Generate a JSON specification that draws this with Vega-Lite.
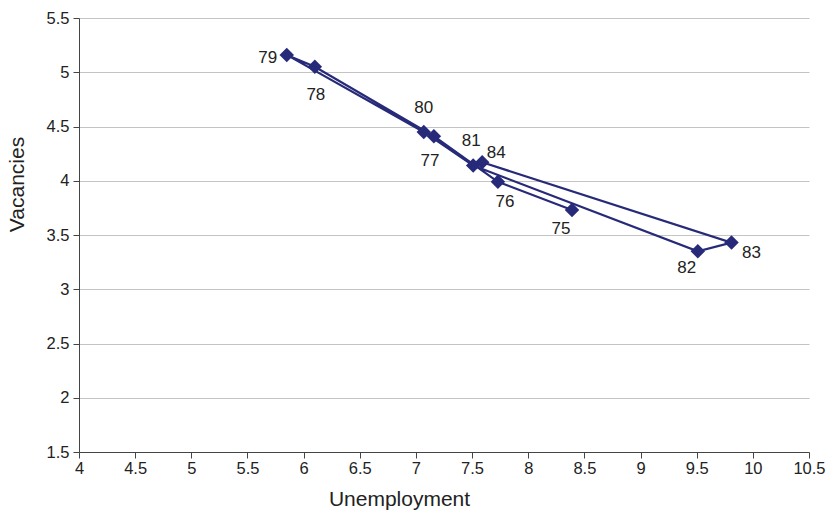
{
  "$schema": "https://vega.github.io/schema/vega-lite/v6.json",
  "width": 730,
  "height": 434,
  "autosize": "none",
  "padding": {"left": 79, "top": 18, "right": 19, "bottom": 62},
  "background": "white",
  "config": {
    "view": {"stroke": null},
    "font": "Liberation Sans",
    "axis": {
      "labelFont": "Liberation Sans",
      "titleFont": "Liberation Sans",
      "labelFontSize": 16.5,
      "titleFontSize": 21,
      "labelColor": "#222222",
      "titleColor": "#222222",
      "titleFontWeight": "normal",
      "domainColor": "#444444",
      "tickColor": "#444444",
      "tickSize": 6,
      "format": "~g"
    }
  },
  "data": {
    "values": [
      {"year": "75", "u": 8.39, "v": 3.73},
      {"year": "76", "u": 7.73, "v": 3.99},
      {"year": "77", "u": 7.16, "v": 4.41},
      {"year": "78", "u": 6.10, "v": 5.05},
      {"year": "79", "u": 5.85, "v": 5.16},
      {"year": "80", "u": 7.07, "v": 4.45},
      {"year": "81", "u": 7.51, "v": 4.14},
      {"year": "82", "u": 9.51, "v": 3.35},
      {"year": "83", "u": 9.81, "v": 3.43},
      {"year": "84", "u": 7.59, "v": 4.17}
    ]
  },
  "encoding": {
    "x": {
      "field": "u", "type": "quantitative",
      "scale": {"domain": [4, 10.5], "nice": false, "zero": false},
      "axis": {"title": "Unemployment", "values": [4,4.5,5,5.5,6,6.5,7,7.5,8,8.5,9,9.5,10,10.5], "grid": false, "labelPadding": 2, "titlePadding": 12, "titleX": 320, "titleAlign": "center", "labelFlush": false}
    },
    "y": {
      "field": "v", "type": "quantitative",
      "scale": {"domain": [1.5, 5.5], "nice": false, "zero": false},
      "axis": {"title": "Vacancies", "values": [1.5,2,2.5,3,3.5,4,4.5,5,5.5], "grid": true, "gridColor": "#c4c4c4", "gridWidth": 1.2, "labelPadding": 4, "titlePadding": 19, "titleY": 166, "titleAlign": "center", "labelFlush": false}
    }
  },
  "layer": [
    {
      "mark": {"type": "line", "color": "#272a78", "strokeWidth": 2.2},
      "encoding": {"order": {"field": "year", "type": "ordinal"}}
    },
    {
      "mark": {"type": "point", "shape": "diamond", "filled": true, "color": "#272a78", "size": 210, "opacity": 1}
    },
    {
      "transform": [{"filter": "datum.year == '79'"}],
      "mark": {"type": "text", "fontSize": 17, "color": "#222222", "dx": -19, "dy": 3},
      "encoding": {"text": {"field": "year"}}
    },
    {
      "transform": [{"filter": "datum.year == '78'"}],
      "mark": {"type": "text", "fontSize": 17, "color": "#222222", "dx": 1, "dy": 28},
      "encoding": {"text": {"field": "year"}}
    },
    {
      "transform": [{"filter": "datum.year == '77'"}],
      "mark": {"type": "text", "fontSize": 17, "color": "#222222", "dx": -4, "dy": 25},
      "encoding": {"text": {"field": "year"}}
    },
    {
      "transform": [{"filter": "datum.year == '76'"}],
      "mark": {"type": "text", "fontSize": 17, "color": "#222222", "dx": 7, "dy": 20},
      "encoding": {"text": {"field": "year"}}
    },
    {
      "transform": [{"filter": "datum.year == '80'"}],
      "mark": {"type": "text", "fontSize": 17, "color": "#222222", "dx": 0, "dy": -24},
      "encoding": {"text": {"field": "year"}}
    },
    {
      "transform": [{"filter": "datum.year == '81'"}],
      "mark": {"type": "text", "fontSize": 17, "color": "#222222", "dx": -2, "dy": -25},
      "encoding": {"text": {"field": "year"}}
    },
    {
      "transform": [{"filter": "datum.year == '84'"}],
      "mark": {"type": "text", "fontSize": 17, "color": "#222222", "dx": 14, "dy": -9},
      "encoding": {"text": {"field": "year"}}
    },
    {
      "transform": [{"filter": "datum.year == '75'"}],
      "mark": {"type": "text", "fontSize": 17, "color": "#222222", "dx": -11, "dy": 19},
      "encoding": {"text": {"field": "year"}}
    },
    {
      "transform": [{"filter": "datum.year == '82'"}],
      "mark": {"type": "text", "fontSize": 17, "color": "#222222", "dx": -11, "dy": 17},
      "encoding": {"text": {"field": "year"}}
    },
    {
      "transform": [{"filter": "datum.year == '83'"}],
      "mark": {"type": "text", "fontSize": 17, "color": "#222222", "dx": 20, "dy": 10},
      "encoding": {"text": {"field": "year"}}
    }
  ]
}
